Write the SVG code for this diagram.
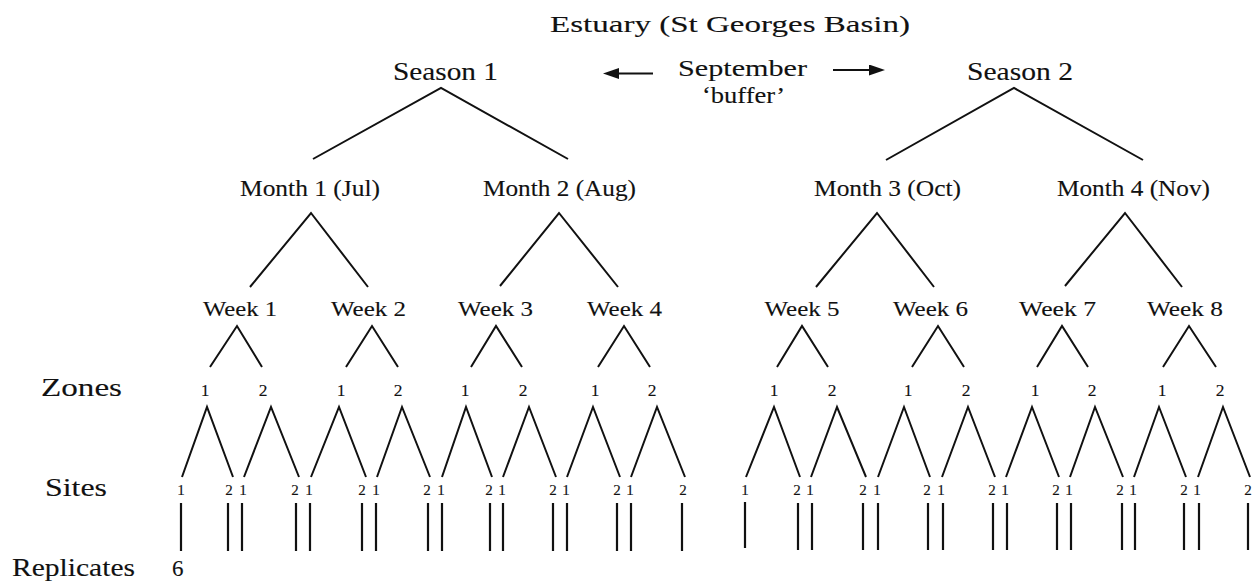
<svg xmlns="http://www.w3.org/2000/svg" width="1260" height="583" viewBox="0 0 1260 583">
<style>
text{font-family:"Liberation Serif","Times New Roman",serif;fill:#111;stroke:#111;stroke-width:0.12}
.t{text-anchor:middle}
.big{font-size:24px}
.season{font-size:25px}
.month{font-size:22.5px}
.week{font-size:21.5px}
.row{font-size:26px}
.zd{font-size:17.5px;text-anchor:middle}
.sd{font-size:15px;text-anchor:middle}
.ln{stroke:#111;stroke-width:2;fill:none}
.rep{stroke:#111;stroke-width:2.2;fill:none}
</style>
<defs>
<marker id="ah" markerUnits="userSpaceOnUse" markerWidth="16" markerHeight="11" viewBox="0 0 16 11" refX="8" refY="5.5" orient="auto">
<path d="M0,0 L16,5.5 L0,11 z" fill="#111"/>
</marker>
</defs>
<rect width="1260" height="583" fill="#fff"/>

<g id="connectors">
<g id="season-links" class="ln">
<path d="M313,159 L441,88 L568,159"/>
<path d="M886,160 L1014,88 L1143,160"/>
</g>
<g id="month-links" class="ln">
<path d="M250,287 L311,213 L368,287"/>
<path d="M500,286 L559,213 L618,287"/>
<path d="M816,287 L877,213 L934,287"/>
<path d="M1065,286 L1125,213 L1182,287"/>
</g>
<g id="week-links" class="ln">
<path d="M210,367 L237,326 L262,367"/>
<path d="M346,367 L372,326 L398,367"/>
<path d="M471,367 L496,326 L522,367"/>
<path d="M598,367 L624,326 L650,367"/>
<path d="M777,367 L802,326 L828,367"/>
<path d="M912,367 L938,326 L964,367"/>
<path d="M1037,367 L1062,326 L1088,367"/>
<path d="M1163,367 L1189,326 L1216,367"/>
</g>
<g id="zone-links" class="ln">
<path d="M182,477 L207,407 L233,477"/>
<path d="M244,477 L271,407 L299,477"/>
<path d="M311,477 L339,407 L366,477"/>
<path d="M377,477 L402,407 L430,477"/>
<path d="M442,477 L466,407 L492,477"/>
<path d="M503,477 L529,407 L556,477"/>
<path d="M567,477 L593,407 L620,477"/>
<path d="M631,477 L657,407 L685,477"/>
<path d="M746,477 L774,407 L800,477"/>
<path d="M811,477 L837,407 L866,477"/>
<path d="M878,477 L904,407 L930,477"/>
<path d="M942,477 L968,407 L995,477"/>
<path d="M1006,477 L1032,407 L1059,477"/>
<path d="M1070,477 L1095,407 L1123,477"/>
<path d="M1134,477 L1159,407 L1186,477"/>
<path d="M1198,477 L1223,407 L1250,477"/>
</g>
<g id="replicate-lines" class="rep">
<path d="M181,503V551 M228,503V551 M242,503V551 M296,503V551 M310,503V551 M362,503V551 M376,503V551 M428,503V551 M442,503V551 M490,503V551 M503,503V551 M553,503V551 M567,503V551 M617,503V551 M631,503V551 M682,503V551"/>
<path d="M745,502V548 M798,503V550 M812,503V550 M863,503V550 M878,503V550 M928,503V550 M943,503V550 M993,503V550 M1007,503V550 M1057,503V550 M1071,503V550 M1122,503V550 M1135,503V550 M1184,503V550 M1199,503V550 M1248,503V550"/>
</g>
<g id="buffer-arrows" class="ln">
<line x1="653" y1="73.5" x2="611" y2="73.5" marker-end="url(#ah)"/>
<line x1="833" y1="70" x2="877" y2="70" marker-end="url(#ah)"/>
</g>
</g>

<g id="title"><text class="t big" x="730" y="32" textLength="360" lengthAdjust="spacingAndGlyphs">Estuary (St Georges Basin)</text></g>
<g id="season1"><text class="t season" x="445.5" y="80" textLength="105" lengthAdjust="spacingAndGlyphs">Season 1</text></g>
<g id="season2"><text class="t season" x="1020" y="80" textLength="106" lengthAdjust="spacingAndGlyphs">Season 2</text></g>
<g id="september">
<text class="t big" x="742.5" y="76" textLength="129" lengthAdjust="spacingAndGlyphs">September</text>
<text class="t big" x="743.5" y="103" textLength="83" lengthAdjust="spacingAndGlyphs">‘buffer’</text>
</g>

<g id="month1"><text class="t month" x="310" y="196" textLength="140" lengthAdjust="spacingAndGlyphs">Month 1 (Jul)</text></g>
<g id="month2"><text class="t month" x="559.5" y="196" textLength="153" lengthAdjust="spacingAndGlyphs">Month 2 (Aug)</text></g>
<g id="month3"><text class="t month" x="887.5" y="196" textLength="147" lengthAdjust="spacingAndGlyphs">Month 3 (Oct)</text></g>
<g id="month4"><text class="t month" x="1133.5" y="196" textLength="153" lengthAdjust="spacingAndGlyphs">Month 4 (Nov)</text></g>

<g id="week1"><text class="t week" x="240" y="316" textLength="74" lengthAdjust="spacingAndGlyphs">Week 1</text></g>
<g id="week2"><text class="t week" x="368.5" y="316" textLength="75" lengthAdjust="spacingAndGlyphs">Week 2</text></g>
<g id="week3"><text class="t week" x="495.5" y="316" textLength="75" lengthAdjust="spacingAndGlyphs">Week 3</text></g>
<g id="week4"><text class="t week" x="624.5" y="316" textLength="75" lengthAdjust="spacingAndGlyphs">Week 4</text></g>
<g id="week5"><text class="t week" x="802" y="316" textLength="75" lengthAdjust="spacingAndGlyphs">Week 5</text></g>
<g id="week6"><text class="t week" x="930.5" y="316" textLength="75" lengthAdjust="spacingAndGlyphs">Week 6</text></g>
<g id="week7"><text class="t week" x="1057.5" y="316" textLength="77" lengthAdjust="spacingAndGlyphs">Week 7</text></g>
<g id="week8"><text class="t week" x="1185" y="316" textLength="76" lengthAdjust="spacingAndGlyphs">Week 8</text></g>

<g id="row-labels">
<text class="row" x="41" y="396" textLength="81" lengthAdjust="spacingAndGlyphs">Zones</text>
<text class="row" x="45" y="496" textLength="62" lengthAdjust="spacingAndGlyphs">Sites</text>
<text style="font-size:25px" x="12" y="576" textLength="123" lengthAdjust="spacingAndGlyphs">Replicates</text>
<text style="font-size:23px" x="172" y="576">6</text>
</g>

<g id="zones">
<text class="zd" x="205" y="396">1</text><text class="zd" x="263" y="396">2</text>
<text class="zd" x="341" y="396">1</text><text class="zd" x="398" y="396">2</text>
<text class="zd" x="465" y="396">1</text><text class="zd" x="523" y="396">2</text>
<text class="zd" x="595" y="396">1</text><text class="zd" x="652" y="396">2</text>
<text class="zd" x="774" y="396">1</text><text class="zd" x="832" y="396">2</text>
<text class="zd" x="908" y="396">1</text><text class="zd" x="966" y="396">2</text>
<text class="zd" x="1035" y="396">1</text><text class="zd" x="1092" y="396">2</text>
<text class="zd" x="1162" y="396">1</text><text class="zd" x="1220" y="396">2</text>
</g>

<g id="sites">
<text class="sd" x="181" y="495">1</text><text class="sd" x="229" y="495">2</text>
<text class="sd" x="243" y="495">1</text><text class="sd" x="295" y="495">2</text>
<text class="sd" x="309" y="495">1</text><text class="sd" x="362" y="495">2</text>
<text class="sd" x="376" y="495">1</text><text class="sd" x="427" y="495">2</text>
<text class="sd" x="441" y="495">1</text><text class="sd" x="489" y="495">2</text>
<text class="sd" x="502" y="495">1</text><text class="sd" x="553" y="495">2</text>
<text class="sd" x="566" y="495">1</text><text class="sd" x="617" y="495">2</text>
<text class="sd" x="630" y="495">1</text><text class="sd" x="683" y="495">2</text>
<text class="sd" x="745" y="495">1</text><text class="sd" x="797" y="495">2</text>
<text class="sd" x="810" y="495">1</text><text class="sd" x="863" y="495">2</text>
<text class="sd" x="877" y="495">1</text><text class="sd" x="927" y="495">2</text>
<text class="sd" x="941" y="495">1</text><text class="sd" x="992" y="495">2</text>
<text class="sd" x="1005" y="495">1</text><text class="sd" x="1056" y="495">2</text>
<text class="sd" x="1069" y="495">1</text><text class="sd" x="1120" y="495">2</text>
<text class="sd" x="1133" y="495">1</text><text class="sd" x="1184" y="495">2</text>
<text class="sd" x="1197" y="495">1</text><text class="sd" x="1248" y="495">2</text>
</g>
</svg>
